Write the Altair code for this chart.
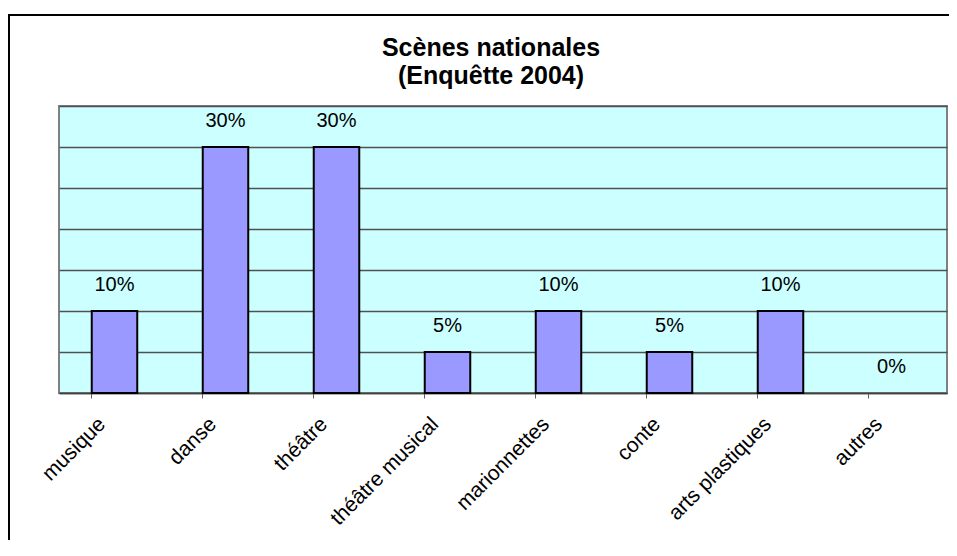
import altair as alt
import pandas as pd

categories = ["musique", "danse", "théâtre", "théâtre musical", "marionnettes", "conte", "arts plastiques", "autres"]
values = [10, 30, 30, 5, 10, 5, 10, 0]
labels = [f"{v}%" for v in values]
title_lines = ["Scènes nationales", "(Enquêtte 2004)"]

df = pd.DataFrame({"cat": categories, "val": values, "lab": labels})

FONT = "Liberation Sans"

xscale = alt.Scale(domain=categories, paddingInner=0.59, paddingOuter=0.295)
x = alt.X("cat:N", sort=categories, title=None, scale=xscale,
          axis=alt.Axis(labelAngle=-45, labelAlign="right", labelBaseline="top",
                        labelPadding=15, labelOffset=-20, bandPosition=0,
                        tickSize=5, tickColor="#606060", tickWidth=1,
                        domainColor="#404040", domainWidth=1.5,
                        labelFont=FONT, labelFontSize=21, labelColor="black", grid=False))
y = alt.Y("val:Q", title=None,
          scale=alt.Scale(domain=[0, 35], nice=False),
          axis=alt.Axis(values=[0, 5, 10, 15, 20, 25, 30, 35], labels=False, ticks=False,
                        domain=False, grid=True, gridColor="#505050", gridWidth=1.5))

base = alt.Chart(df)
bars = base.mark_bar(color="#9999FF", stroke="black", strokeWidth=2).encode(x=x, y=y).transform_filter(
    alt.datum.val > 0)
text = base.mark_text(dy=-20, baseline="alphabetic", font=FONT, fontSize=20, color="black").encode(
    x=alt.X("cat:N", sort=categories, scale=xscale), y=alt.Y("val:Q"), text="lab:N")

title1 = alt.Chart(alt.Data(values=[{}])).mark_text(
    font=FONT, fontSize=25, fontWeight="bold", color="black", align="center", baseline="alphabetic").encode(
    x=alt.value(432), y=alt.value(-50), text=alt.value(title_lines[0]))
title2 = alt.Chart(alt.Data(values=[{}])).mark_text(
    font=FONT, fontSize=25, fontWeight="bold", color="black", align="center", baseline="alphabetic").encode(
    x=alt.value(432), y=alt.value(-22), text=alt.value(title_lines[1]))

frame = alt.Chart(alt.Data(values=[{}])).mark_rect(filled=False, stroke="black", strokeWidth=2).encode(
    x=alt.value(-50), x2=alt.value(2000), y=alt.value(-91), y2=alt.value(2000))

chart = alt.layer(bars, text, title1, title2, frame).properties(
    width=888, height=287,
    background="white",
    autosize=alt.AutoSizeParams(type="none"),
    padding={"left": 51, "top": 98, "right": 2, "bottom": 147},
).configure_view(fill="#CCFFFF", stroke="#808080", strokeWidth=2)

chart.save("out.html", embed_options={"renderer": "svg", "actions": False})
